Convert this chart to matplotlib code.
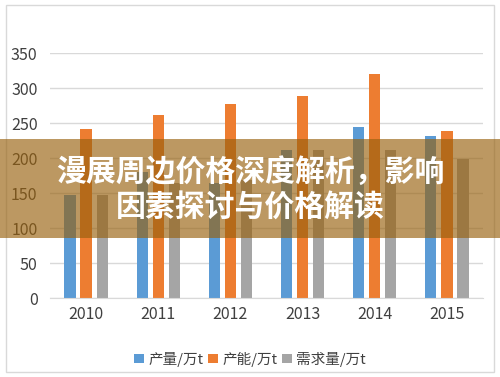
import matplotlib
matplotlib.use("Agg")
import matplotlib.pyplot as plt
from matplotlib.patches import Rectangle
import numpy as np

plt.rcParams['font.family'] = ['Noto Sans CJK SC', 'DejaVu Sans']

# Data
years = ["2010", "2011", "2012", "2013", "2014", "2015"]
output = [147, 180, 165, 212, 245, 231]      # 产量/万t
capacity = [242, 261, 277, 289, 320, 239]    # 产能/万t
demand = [147, 165, 168, 212, 211, 198]      # 需求量/万t
series_names = ["产量/万t", "产能/万t", "需求量/万t"]
colors = ["#5B9BD5", "#ED7D31", "#A5A5A5"]
title_lines = ["漫展周边价格深度解析，影响", "因素探讨与价格解读"]

fig = plt.figure(figsize=(5, 3.77), dpi=100)
ax = fig.add_axes([0.1, 0.2095, 0.866, 0.6495])

x = np.arange(len(years))
w = 0.155
gap = 0.223
for i, (vals, name, c) in enumerate(zip([output, capacity, demand], series_names, colors)):
    ax.bar(x + (i - 1) * gap, vals, width=w, color=c, label=name, zorder=2)

ax.set_ylim(0, 350)
ax.set_xlim(-0.5, len(years) - 0.5)
ax.set_yticks(range(0, 351, 50))
ax.set_xticks(x)
ax.set_xticklabels(years)
ax.grid(axis='y', color='#d9d9d9', linewidth=1, zorder=0)
ax.tick_params(axis='both', length=0, labelsize=11.5, colors='#404040', pad=6)
ax.tick_params(axis='y', pad=9)
for s in ['top', 'right', 'left']:
    ax.spines[s].set_visible(False)
ax.spines['bottom'].set_color('#d9d9d9')

# legend centred on the figure, not the axes
ax.legend(loc='upper center', bbox_to_anchor=(0.462, -0.165), ncol=3, frameon=False,
          fontsize=10.5, handlelength=0.65, handleheight=0.65, handletextpad=0.3,
          columnspacing=0.35, labelcolor='#404040')

# outer frame
fig.patches.append(Rectangle((0.012, 0.013), 0.976, 0.974, transform=fig.transFigure,
                             fill=False, edgecolor='#d9d9d9', linewidth=1))

# title banner over the chart
fig.patches.append(Rectangle((0, 1 - 238 / 377), 1, 99 / 377, transform=fig.transFigure,
                             facecolor='#98610e', alpha=0.65, edgecolor='none', zorder=5))
fig.text(0.5, 1 - 172 / 377, title_lines[0], ha='center', va='center', color='white',
         fontsize=21.5, fontweight=900, zorder=6)
fig.text(0.5, 1 - 207 / 377, title_lines[1], ha='center', va='center', color='white',
         fontsize=21.5, fontweight=900, zorder=6)

fig.savefig("out.png", dpi=100)
